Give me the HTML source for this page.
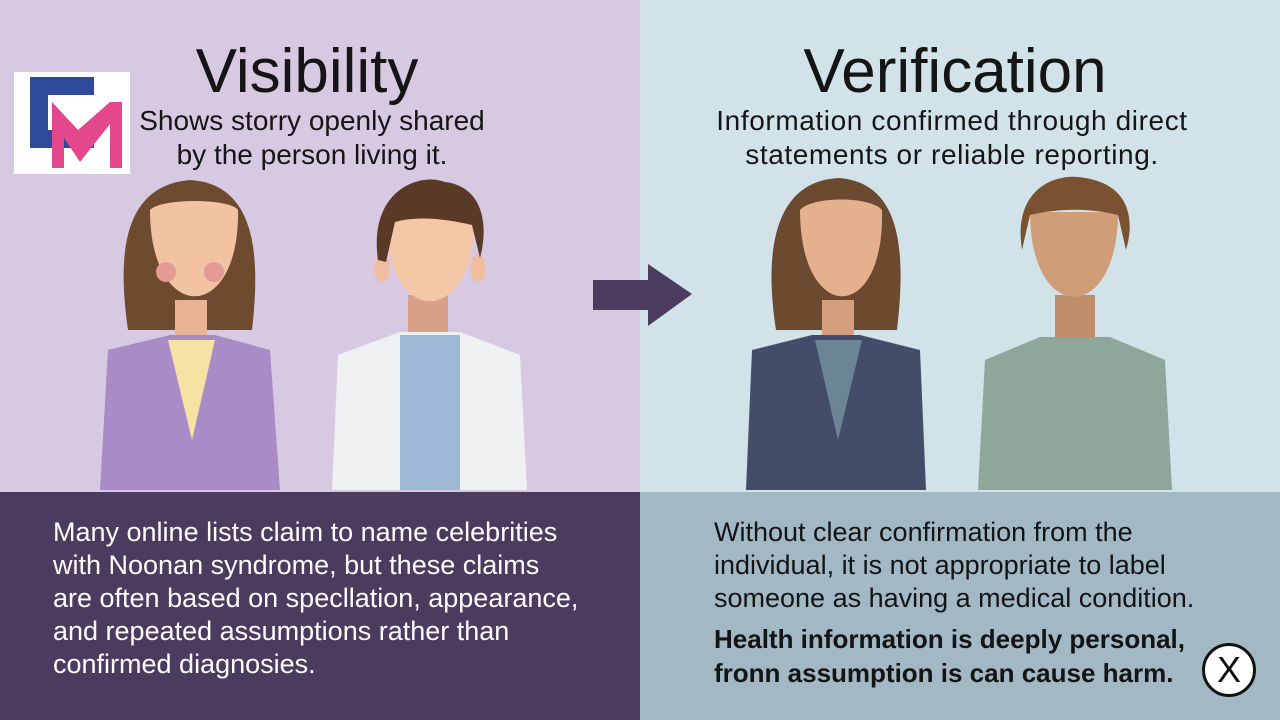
<!DOCTYPE html>
<html><head><meta charset="utf-8"><style>
body{margin:0;width:1280px;height:720px;overflow:hidden;font-family:"Liberation Sans",sans-serif;position:relative}
.p{position:absolute}
.t{position:absolute;text-align:center;width:640px}
</style></head><body>
<div class="p" style="left:0;top:0;width:640px;height:492px;background:#d8c9e3"></div>
<div class="p" style="left:640px;top:0;width:640px;height:492px;background:#d2e2e9"></div>
<div class="p" style="left:0;top:492px;width:640px;height:228px;background:#4b3b5e"></div>
<div class="p" style="left:640px;top:492px;width:640px;height:228px;background:#a2b9c5"></div>

<div class="t" style="left:-13px;top:36px;font-size:62px;color:#151515">Visibility</div>
<div class="t" style="left:-8px;top:104px;font-size:28px;line-height:34px;color:#151515">Shows storry openly shared<br>by the person living it.</div>
<div class="t" style="left:635px;top:36px;font-size:62px;color:#151515">Verification</div>
<div class="t" style="left:632px;top:104px;font-size:28px;line-height:34px;color:#151515;letter-spacing:0.6px">Information confirmed through direct<br>statements or reliable reporting.</div>

<div class="p" style="left:14px;top:72px;width:116px;height:102px;background:#fff"></div>
<svg class="p" style="left:14px;top:72px" width="116" height="102">
<path d="M16 5 H80 V23 H34 V58 H80 V76 H16 Z" fill="#2f4a9a"/>
<path d="M38 30 L64 58 L96 30 H108 V96 H96 V52 L66 90 L50 66 V96 H38 Z" fill="#e5478d"/>
</svg>

<svg class="p" style="left:0;top:0" width="1280" height="492">
<path d="M593 280 H648 V264 L692 294 L648 326 V310 H593 Z" fill="#4b3b5e"/>
<!-- woman 1 -->
<path d="M128 330 C118 260 120 186 190 180 C258 184 260 260 252 330 Z" fill="#6e4a2e"/>
<rect x="175" y="300" width="32" height="40" fill="#e8b395"/>
<path d="M150 210 C150 325 240 325 238 210 C230 198 160 198 150 210Z" fill="#f1c3a2"/>
<path d="M100 490 L108 350 L170 335 L215 335 L270 350 L280 490Z" fill="#a98bc7"/>
<path d="M168 340 L215 340 L192 440Z" fill="#f6e3a3"/>
<circle cx="166" cy="272" r="10" fill="#e39a92"/><circle cx="214" cy="272" r="10" fill="#e39a92"/>
<!-- man 1 -->
<rect x="408" y="295" width="40" height="45" fill="#d9a088"/>
<ellipse cx="382" cy="268" rx="8" ry="14" fill="#efbd9f"/><ellipse cx="478" cy="268" rx="8" ry="14" fill="#efbd9f"/>
<path d="M385 215 C385 330 475 330 475 215 Z" fill="#f3c7a6"/>
<path d="M378 260 C368 190 420 172 445 182 C480 186 490 220 480 258 L472 225 C450 220 420 215 395 222 L386 262Z" fill="#5a3a26"/>
<path d="M332 490 L338 355 L400 332 L460 332 L520 355 L527 490Z" fill="#eef0f1"/>
<rect x="400" y="335" width="60" height="155" fill="#9db9d6"/>
<!-- woman 2 -->
<path d="M776 330 C765 260 770 182 838 178 C905 182 905 260 897 330Z" fill="#6b4a30"/>
<rect x="822" y="300" width="32" height="40" fill="#d49f7f"/>
<path d="M800 210 C800 325 885 325 882 210 C870 196 812 196 800 210Z" fill="#e4b08d"/>
<path d="M746 490 L752 350 L812 335 L860 335 L920 350 L926 490Z" fill="#434c69"/>
<path d="M815 340 L862 340 L838 440Z" fill="#6b8596"/>
<!-- man 2 -->
<rect x="1055" y="295" width="40" height="45" fill="#bf8d6a"/>
<path d="M1030 212 C1030 325 1118 325 1118 212Z" fill="#cf9e78"/>
<path d="M1022 250 C1012 185 1060 172 1085 178 C1130 185 1135 220 1126 250 L1118 215 C1090 208 1060 208 1030 215Z" fill="#7a5232"/>
<path d="M978 490 L985 360 L1040 337 L1110 337 L1165 360 L1172 490Z" fill="#8fa79b"/>
</svg>

<div class="p" style="left:53px;top:516px;font-size:27px;line-height:33px;color:#fff">Many online lists claim to name celebrities<br>with Noonan syndrome, but these claims<br>are often based on specllation, appearance,<br>and repeated assumptions rather than<br>confirmed diagnosies.</div>
<div class="p" style="left:714px;top:516px;font-size:27px;line-height:33px;color:#141414">Without clear confirmation from the<br>individual, it is not appropriate to label<br>someone as having a medical condition.</div>
<div class="p" style="left:714px;top:622px;font-size:26px;line-height:34px;color:#141414;font-weight:bold">Health information is deeply personal,<br>fronn assumption is can cause harm.</div>

<div class="p" style="left:1202px;top:643px;width:54px;height:54px;border-radius:50%;background:#fff;border:3px solid #111;box-sizing:border-box;text-align:center;font-size:36px;line-height:48px;color:#111">X</div>
</body></html>
